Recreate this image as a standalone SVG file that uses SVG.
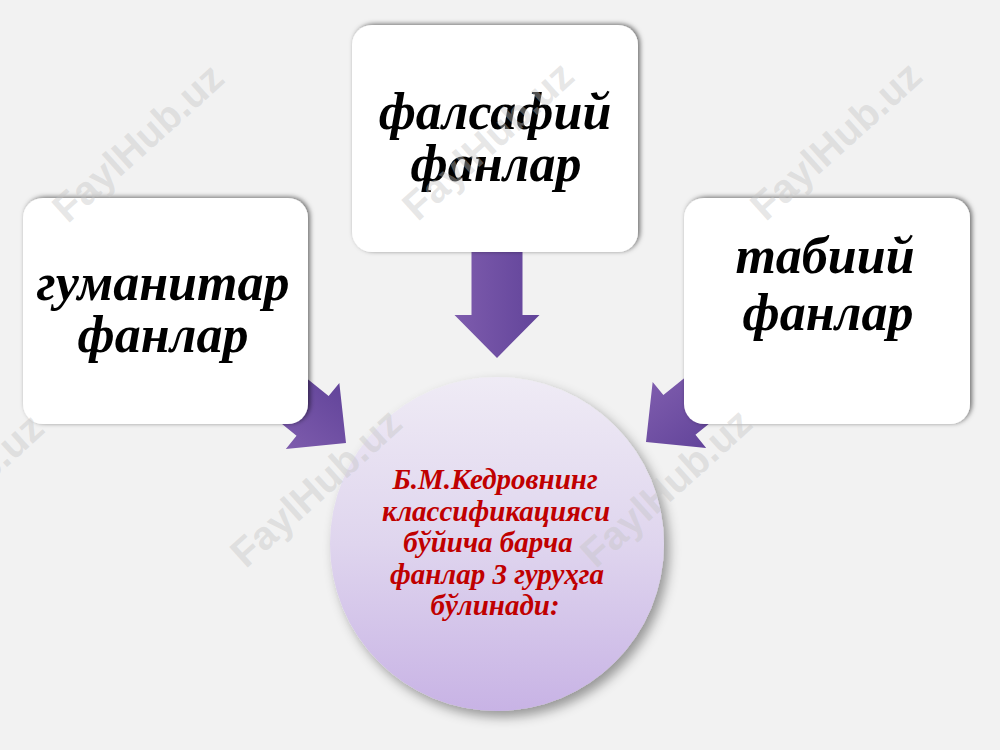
<svg xmlns="http://www.w3.org/2000/svg" width="1000" height="750" viewBox="0 0 1000 750">
  <defs>
    <style>
      .box { fill: #ffffff; filter: url(#boxShadow); }
      .boxText { font-family: "Liberation Serif", "Times New Roman", serif; font-weight: bold; font-style: italic; font-size: 52px; fill: #000000; text-anchor: middle; }
      .circText { font-family: "Liberation Serif", "Times New Roman", serif; font-weight: bold; font-style: italic; font-size: 29px; fill: #c00000; text-anchor: middle; }
      .wm { font-family: "Liberation Sans", Arial, sans-serif; font-weight: bold; font-size: 40px; fill: #c4c4c4; fill-opacity: 0.42; text-anchor: middle; dominant-baseline: middle; }
      .arrow { fill: url(#arrowGrad); }
    </style>
    <filter id="boxShadow" x="-10%" y="-10%" width="120%" height="120%">
      <feDropShadow dx="2" dy="-1" stdDeviation="2.5" flood-color="#000000" flood-opacity="0.55"/>
    </filter>
    <filter id="circShadow" x="-15%" y="-15%" width="135%" height="135%">
      <feDropShadow dx="5" dy="6" stdDeviation="6" flood-color="#000000" flood-opacity="0.38"/>
    </filter>
    <linearGradient id="arrowGrad" x1="0" y1="0" x2="1" y2="0">
      <stop offset="0" stop-color="#7e5cad"/>
      <stop offset="1" stop-color="#62449a"/>
    </linearGradient>
    <linearGradient id="circGrad" x1="0" y1="0" x2="0" y2="1">
      <stop offset="0" stop-color="#efebf5"/>
      <stop offset="0.5" stop-color="#dfd5ee"/>
      <stop offset="1" stop-color="#c8b3e5"/>
    </linearGradient>
    <path id="arrowShape" d="M -25.5 -120 L 25.5 -120 L 25.5 -43 L 42.5 -43 L 0 0 L -42.5 -43 L -25.5 -43 Z"/>
  </defs>

  <rect x="0" y="0" width="1000" height="750" fill="#f2f2f2"/>

  <g id="connectors">
    <use href="#arrowShape" class="arrow" transform="translate(497,358)"/>
    <use href="#arrowShape" class="arrow" transform="translate(346,443) rotate(-51)"/>
    <use href="#arrowShape" class="arrow" transform="translate(646,442) rotate(51)"/>
  </g>

  <g id="node-center">
    <circle cx="497" cy="544" r="167" fill="url(#circGrad)" filter="url(#circShadow)"/>
    <text class="circText" x="495" y="489">Б.М.Кедровнинг</text>
    <text class="circText" x="496" y="521">классификацияси</text>
    <text class="circText" x="488" y="552">бўйича барча</text>
    <text class="circText" x="497" y="584">фанлар 3 гуруҳга</text>
    <text class="circText" x="495" y="615">бўлинади:</text>
  </g>

  <g id="node-left">
    <rect class="box" x="23" y="198" width="285" height="226" rx="20"/>
    <text class="boxText" x="163" y="300">гуманитар</text>
    <text class="boxText" x="163" y="352">фанлар</text>
  </g>

  <g id="node-top">
    <rect class="box" x="352" y="25" width="286" height="227" rx="20"/>
    <text class="boxText" x="495" y="129">фалсафий</text>
    <text class="boxText" x="496" y="181">фанлар</text>
  </g>

  <g id="node-right">
    <rect class="box" x="684" y="198" width="286" height="226" rx="20"/>
    <text class="boxText" x="825" y="273">табиий</text>
    <text class="boxText" x="828" y="330">фанлар</text>
  </g>

  <g id="watermarks">
    <text class="wm" transform="translate(140,145) rotate(-42)">FaylHub.uz</text>
    <text class="wm" transform="translate(490,143) rotate(-42)">FaylHub.uz</text>
    <text class="wm" transform="translate(838,143) rotate(-42)">FaylHub.uz</text>
    <text class="wm" transform="translate(318,490) rotate(-42)">FaylHub.uz</text>
    <text class="wm" transform="translate(668,490) rotate(-42)">FaylHub.uz</text>
    <text class="wm" transform="translate(-40,495) rotate(-42)">FaylHub.uz</text>
  </g>
</svg>
